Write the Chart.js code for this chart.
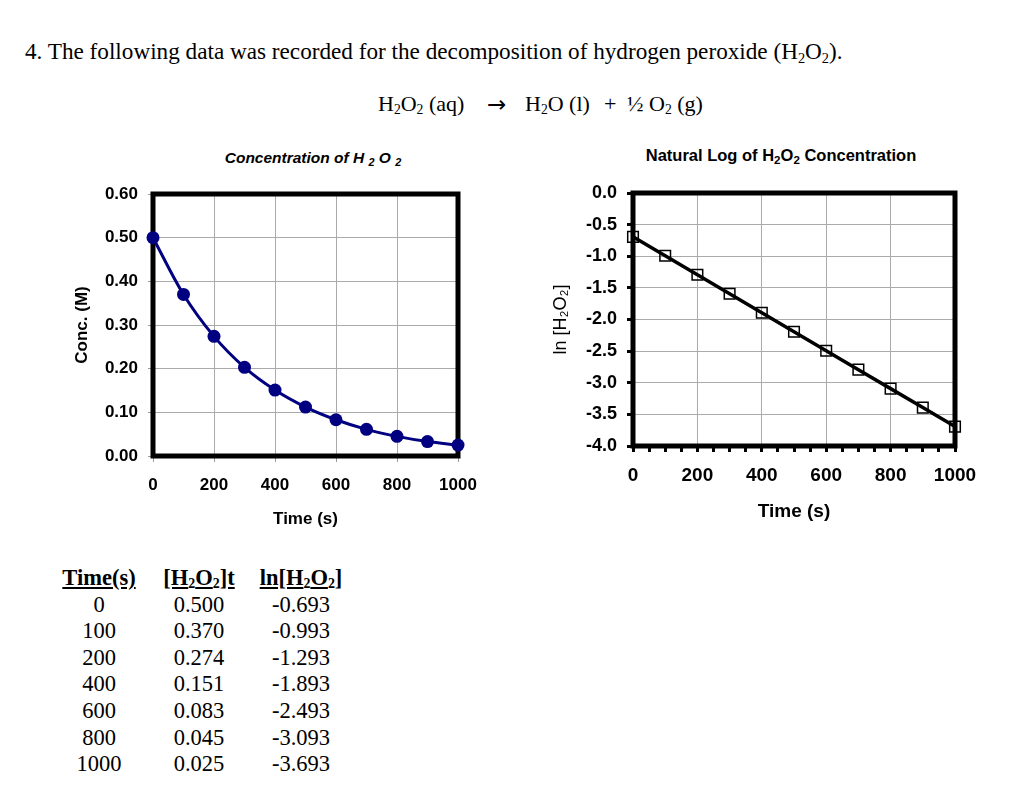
<!DOCTYPE html>
<html>
<head>
<meta charset="utf-8">
<script src="https://cdn.jsdelivr.net/npm/chart.js@4.4.1/dist/chart.umd.min.js"></script>
<style>
    body {
        margin: 0;
        width: 1024px;
        height: 794px;
        position: relative;
        overflow: hidden;
        background: #fff;
        color: #000;
        font-family: "Liberation Serif", "Times New Roman", serif;
    }
    .abs { position: absolute; white-space: nowrap; }
    sub { font-size: 0.62em; vertical-align: -0.25em; line-height: 0; }
    .heading { left: 25px; top: 38px; font-size: 23.2px; }
    .eq { top: 91px; font-size: 22px; }
    .arrow { font-family: "DejaVu Sans", sans-serif; font-size: 23px; line-height: 24px; top: 92px; }
    .chart-title {
        font-family: "Liberation Sans", Arial, sans-serif;
        font-weight: bold;
        line-height: 18px;
        text-align: center;
    }
    .chart-title sub { font-size: 0.7em; vertical-align: -0.3em; }
    #concTitle { left: 193px; width: 240px; top: 149px; font-size: 15.5px; font-style: italic; }
    #lnTitle { left: 631px; width: 300px; top: 146px; font-size: 16.5px; }
    #concWrap { left: 50px; top: 140px; width: 440px; height: 400px; }
    #lnWrap { left: 535px; top: 140px; width: 460px; height: 390px; }
    #dataTable {
        left: 49px;
        top: 565px;
        border-collapse: collapse;
        font-size: 22.5px;
    }
    #dataTable td, #dataTable th {
        width: 100px;
        height: 26.6px;
        padding: 0;
        text-align: center;
        line-height: 26.6px;
    }
    #dataTable td:nth-child(3), #dataTable th:nth-child(3) { width: 104px; }
    #dataTable th { font-weight: bold; text-decoration: underline; }
</style>
</head>
<body>
<div class="abs heading">4. The following data was recorded for the decomposition of hydrogen peroxide (H<sub>2</sub>O<sub>2</sub>).</div>
<div class="abs eq" style="left:378px">H<sub>2</sub>O<sub>2</sub> (aq)</div>
<div class="abs arrow" style="left:487px">→</div>
<div class="abs eq" style="left:525px">H<sub>2</sub>O (l)</div>
<div class="abs eq" style="left:604px">+</div>
<div class="abs eq" style="left:627px">½ O<sub>2</sub> (g)</div>

<div class="abs chart-title" id="concTitle">Concentration of H <sub>2</sub> O <sub>2</sub></div>
<div class="abs chart-title" id="lnTitle">Natural Log of H<sub>2</sub>O<sub>2</sub> Concentration</div>

<div class="abs" id="concWrap"><canvas id="concChart" width="440" height="400"></canvas></div>
<div class="abs" id="lnWrap"><canvas id="lnChart" width="460" height="390"></canvas></div>

<table class="abs" id="dataTable"></table>

<script>
// readings every 100 s, as plotted
const times = [0, 100, 200, 300, 400, 500, 600, 700, 800, 900, 1000];
const concValues = [0.500, 0.370, 0.274, 0.203, 0.151, 0.112, 0.083, 0.061, 0.045, 0.033, 0.025];
const lnValues = [-0.693, -0.993, -1.293, -1.593, -1.893, -2.193, -2.493, -2.793, -3.093, -3.393, -3.693];

// the table under the charts
const tableTimes = ['0', '100', '200', '400', '600', '800', '1000'];
const tableConc = ['0.500', '0.370', '0.274', '0.151', '0.083', '0.045', '0.025'];
const tableLn = ['-0.693', '-0.993', '-1.293', '-1.893', '-2.493', '-3.093', '-3.693'];

const sansFont = '"Liberation Sans", Arial, sans-serif';
Chart.defaults.font.family = sansFont;
Chart.defaults.color = '#000';

// Build the table
const table = document.getElementById('dataTable');
let rows = '<tr><th>Time(s)</th><th>[H<sub>2</sub>O<sub>2</sub>]t</th><th>ln[H<sub>2</sub>O<sub>2</sub>]</th></tr>';
for (let i = 0; i < tableTimes.length; i++) {
    rows += `<tr><td>${tableTimes[i]}</td><td>${tableConc[i]}</td><td>${tableLn[i]}</td></tr>`;
}
table.innerHTML = rows;

// Thick black frame round the plot area, under the points
const frameBorder = {
    id: 'frameBorder',
    beforeDatasetsDraw(chart) {
        const { ctx, chartArea: a } = chart;
        ctx.save();
        ctx.strokeStyle = '#000';
        ctx.lineWidth = 5;
        ctx.strokeRect(a.left, a.top, a.right - a.left, a.bottom - a.top);
        ctx.restore();
    },
};

// Concentration chart
new Chart(document.getElementById('concChart').getContext('2d'), {
    type: 'line',
    data: {
        datasets: [{
            data: times.map((t, i) => ({ x: t, y: concValues[i] })),
            borderColor: '#000080',
            backgroundColor: '#000080',
            borderWidth: 3,
            tension: 0.35,
            pointRadius: 6.5,
            pointBorderWidth: 0,
            clip: false,
        }],
    },
    options: {
        responsive: false,
        animation: false,
        layout: { padding: { left: 18, top: 54, right: 32, bottom: 6 } },
        plugins: { legend: { display: false }, tooltip: { enabled: false } },
        scales: {
            x: {
                type: 'linear',
                min: 0,
                max: 1000,
                ticks: {
                    stepSize: 200,
                    padding: 13,
                    maxRotation: 0,
                    autoSkip: false,
                    callback: (v) => String(v),
                    font: { size: 17, weight: 'bold' },
                },
                grid: { color: '#aaa', tickLength: 6, tickColor: '#999' },
                border: { display: false },
                title: {
                    display: true,
                    text: 'Time (s)',
                    font: { size: 17, weight: 'bold' },
                },
                afterFit(scale) { scale.height = 78; },
            },
            y: {
                min: 0,
                max: 0.6,
                ticks: {
                    stepSize: 0.1,
                    padding: 10,
                    callback: (v) => v.toFixed(2),
                    font: { size: 17, weight: 'bold' },
                },
                grid: { color: '#aaa', tickLength: 5, tickColor: '#999' },
                border: { display: false },
                title: {
                    display: true,
                    text: 'Conc. (M)',
                    font: { size: 17, weight: 'bold' },
                },
                afterFit(scale) { scale.width = 85; },
            },
        },
    },
    plugins: [frameBorder],
});

// Natural log chart
new Chart(document.getElementById('lnChart').getContext('2d'), {
    type: 'line',
    data: {
        datasets: [{
            data: times.map((t, i) => ({ x: t, y: lnValues[i] })),
            borderColor: '#000',
            backgroundColor: 'rgba(0,0,0,0)',
            borderWidth: 3.5,
            tension: 0,
            pointStyle: 'rect',
            pointRadius: 7.5,
            pointBorderWidth: 1.5,
            pointBorderColor: '#000',
            clip: false,
        }],
    },
    options: {
        responsive: false,
        animation: false,
        layout: { padding: { left: 11, top: 53, right: 40, bottom: 3 } },
        plugins: { legend: { display: false }, tooltip: { enabled: false } },
        scales: {
            x: {
                type: 'linear',
                min: 0,
                max: 1000,
                ticks: {
                    stepSize: 50,
                    padding: 12,
                    maxRotation: 0,
                    autoSkip: false,
                    callback: (v) => (v % 200 === 0 ? String(v) : ''),
                    font: { size: 19, weight: 'bold' },
                },
                grid: {
                    color: (c) => (c.tick && c.tick.value % 200 === 0 ? '#aaa' : 'rgba(0,0,0,0)'),
                    tickLength: 6,
                    tickWidth: 3,
                    tickColor: '#000',
                },
                border: { display: false },
                title: {
                    display: true,
                    text: 'Time (s)',
                    font: { size: 19, weight: 'bold' },
                },
                afterFit(scale) { scale.height = 81; },
            },
            y: {
                min: -4,
                max: 0,
                ticks: {
                    stepSize: 0.5,
                    padding: 10,
                    callback: (v) => v.toFixed(1),
                    font: { size: 18, weight: 'bold' },
                },
                grid: { color: '#aaa', tickLength: 6, tickWidth: 3, tickColor: '#000' },
                border: { display: false },
                title: {
                    display: true,
                    text: 'ln [H₂O₂]',
                    font: { size: 18 },
                },
                afterFit(scale) { scale.width = 87; },
            },
        },
    },
    plugins: [frameBorder],
});
</script>
</body>
</html>
